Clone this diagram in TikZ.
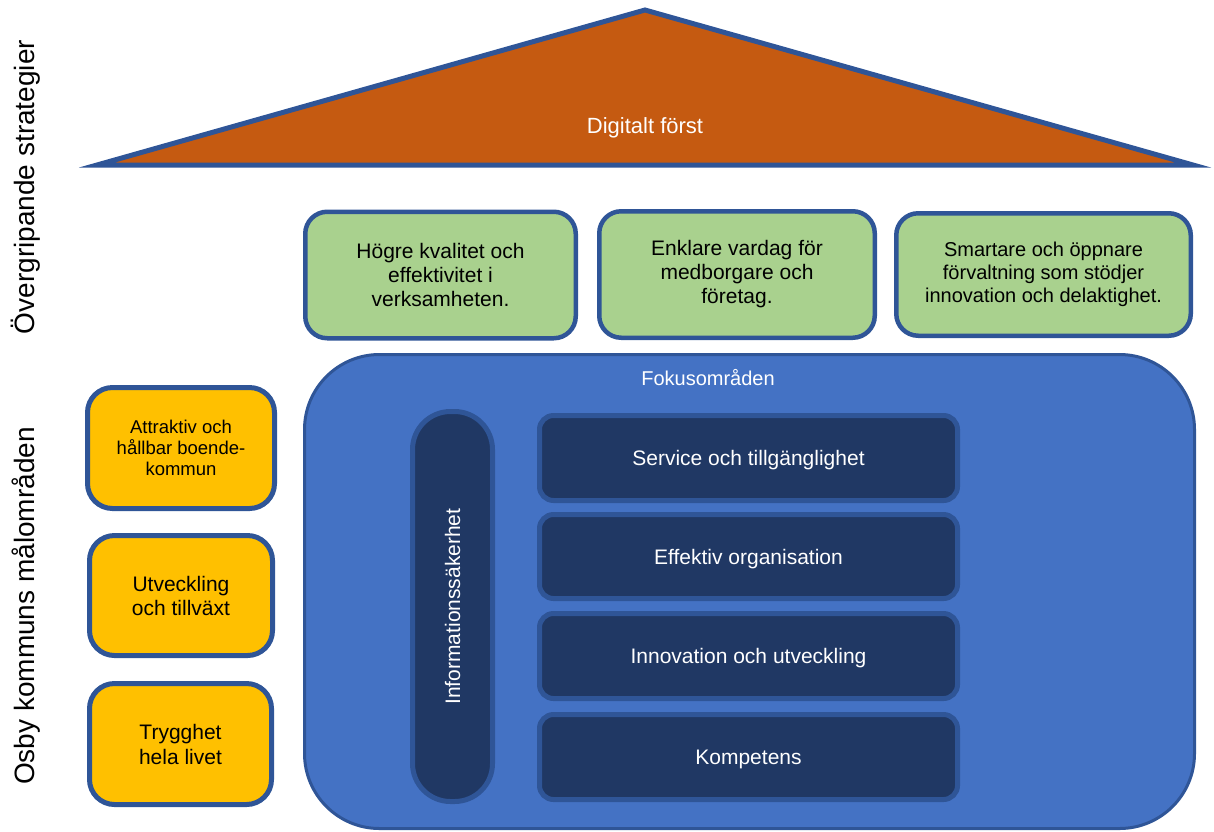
\documentclass[tikz,border=0pt]{standalone}
\usepackage{fontspec}
\setmainfont{Liberation Sans}
\definecolor{roof}{HTML}{C55A11}
\definecolor{edgeblue}{HTML}{2F5597}
\definecolor{goalgreen}{HTML}{A9D18E}
\definecolor{goalyellow}{HTML}{FFC000}
\definecolor{focusblue}{HTML}{4472C4}
\definecolor{darkblue}{HTML}{203864}
\newcommand{\fs}[2]{\fontsize{#1}{#2}\selectfont}
\begin{document}
\begin{tikzpicture}[x=1pt,y=-1pt,
  box/.style={draw=edgeblue, rectangle, inner sep=0pt, align=center},
  greenbox/.style={box, fill=goalgreen, line width=4.5pt, rounded corners=22pt, text=black, font=\fs{21}{24}},
  yellowbox/.style={box, fill=goalyellow, line width=5pt, rounded corners=25pt, text=black},
  focusbox/.style={box, fill=focusblue, line width=3pt, rounded corners=75pt},
  darkbox/.style={box, fill=darkblue, line width=5pt, rounded corners=14pt, text=white, font=\fs{21}{24}, text height=15pt, text depth=0pt},
  sidelabel/.style={rotate=90, anchor=base, font=\fs{28}{32}, text=black}
]
\useasboundingbox (0,0) rectangle (1214,831);

% roof
\draw[fill=roof, draw=edgeblue, line width=5pt] (97,165) -- (645,10) -- (1193,165) -- cycle;
\node[anchor=base, text=white, font=\fs{22}{26}] (roofText) at (645,133) {Digitalt först};

% side labels
\node[sidelabel] (labelTop) at (34,187) {Övergripande strategier};
\node[sidelabel] (labelBottom) at (34,606) {Osby kommuns målområden};

% green goals
\node[greenbox, minimum width=270.5pt, minimum height=126.5pt] (g1) at (440.5,275)
  {Högre kvalitet och\\effektivitet i\\verksamheten.};
\node[greenbox, minimum width=275.5pt, minimum height=126.5pt] (g2) at (737,274.5)
  {Enklare vardag för\\medborgare och\\företag.};
\node[greenbox, minimum width=294.5pt, minimum height=122.5pt, font=\fs{20}{23}] (g3) at (1043.5,274.5)
  {Smartare och öppnare\\förvaltning som stödjer\\innovation och delaktighet.};

% yellow goals
\node[yellowbox, minimum width=187pt, minimum height=121pt, font=\fs{18.5}{21}] (y1) at (181,448)
  {Attraktiv och\\hållbar boende-\\kommun};
\node[yellowbox, minimum width=183pt, minimum height=120pt, font=\fs{21}{24}] (y2) at (181,595.5)
  {Utveckling\\och tillväxt};
\node[yellowbox, minimum width=182pt, minimum height=121pt, font=\fs{21}{25}] (y3) at (180.5,744)
  {Trygghet\\hela livet};

% focus area
\node[focusbox, minimum width=890pt, minimum height=474pt] (focus) at (749.5,591.5) {};
\node[anchor=base, text=white, font=\fs{20}{24}] (focusTitle) at (708,385) {Fokusområden};

\node[box, fill=darkblue, line width=5pt, rounded corners=38pt, minimum width=80pt, minimum height=390pt] (info) at (452.5,606.5) {};
\node[rotate=90, anchor=base, text=white, font=\fs{21}{24}] (infoText) at (460,606.5) {Informationssäkerhet};

\node[darkbox, minimum width=418pt, minimum height=85pt] (d1) at (748.5,458) {Service och tillgänglighet};
\node[darkbox, minimum width=418pt, minimum height=84pt] (d2) at (748.5,556.5) {Effektiv organisation};
\node[darkbox, minimum width=418pt, minimum height=85pt] (d3) at (748.5,656) {Innovation och utveckling};
\node[darkbox, minimum width=418pt, minimum height=85pt] (d4) at (748.5,757) {Kompetens};
\end{tikzpicture}
\end{document}
